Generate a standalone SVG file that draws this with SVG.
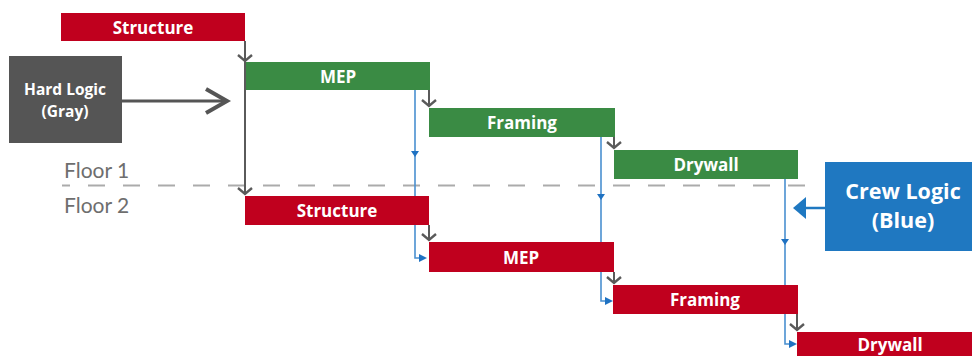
<svg xmlns="http://www.w3.org/2000/svg" width="972" height="356" viewBox="0 0 972 356">
  <style>
    .label { font-family: "Open Sans", Lato, sans-serif; font-weight: 700; font-size: 17px; fill: #ffffff; text-anchor: middle; }
    .floor { font-family: Lato, "Open Sans", sans-serif; font-weight: 400; font-size: 21px; fill: #6e6e6e; }
    .red { fill: #c0001e; }
    .green { fill: #3a8b44; }
    .hard { stroke: #5a5a5a; stroke-width: 2; fill: none; }
    .crew { stroke: #4a90d0; stroke-width: 1.6; fill: none; }
    .tri { fill: #1f72c2; }
  </style>
  <defs>
    <marker id="chev" markerUnits="userSpaceOnUse" viewBox="-10 -10 20 20" refX="0" refY="0" markerWidth="20" markerHeight="20" orient="auto">
      <path d="M-6,-7 L0,0 L-6,7" fill="none" stroke="#5a5a5a" stroke-width="2.4"/>
    </marker>
  </defs>

  <rect width="972" height="356" fill="#ffffff"/>

  <!-- floor divider -->
  <line x1="62" y1="185.5" x2="812" y2="185.5" stroke="#ababab" stroke-width="2" stroke-dasharray="17 18" stroke-dashoffset="9"/>
  <text class="floor" x="64" y="178">Floor 1</text>
  <text class="floor" x="64" y="213">Floor 2</text>

  <!-- connectors -->
  <g id="connectors">
    <!-- hard logic: finish-to-start -->
    <path class="hard" d="M245,41 V61" marker-end="url(#chev)"/>
    <path class="hard" d="M245,61 V194" marker-end="url(#chev)"/>
    <path class="hard" d="M429,90 V106" marker-end="url(#chev)"/>
    <path class="hard" d="M614,137 V148" marker-end="url(#chev)"/>
    <path class="hard" d="M429,225 V240" marker-end="url(#chev)"/>
    <path class="hard" d="M614,272 V283" marker-end="url(#chev)"/>
    <path class="hard" d="M797,314 V330" marker-end="url(#chev)"/>

    <!-- crew logic: same trade moves to next floor -->
    <path class="crew" d="M415,90 V258 H420"/>
    <path class="tri" d="M411,151 H419 L415,157 Z"/>
    <path class="tri" d="M419,254 L427,258 L419,262 Z"/>

    <path class="crew" d="M601,137 V301 H606"/>
    <path class="tri" d="M597,194 H605 L601,200 Z"/>
    <path class="tri" d="M605,297 L613,301 L605,305 Z"/>

    <path class="crew" d="M785,179 V344 H790"/>
    <path class="tri" d="M781,239 H789 L785,245 Z"/>
    <path class="tri" d="M789,340 L797,344 L789,348 Z"/>

    <!-- legend pointers -->
    <path d="M122,101 H226" stroke="#555555" stroke-width="3" fill="none"/>
    <path d="M206,89 L227,101 L206,113" stroke="#555555" stroke-width="4" fill="none"/>
    <path d="M825,208 H804" stroke="#1f78c1" stroke-width="2.5" fill="none"/>
    <path d="M806,197 L793,208 L806,219 Z" fill="#1f78c1"/>
  </g>

  <!-- floor 1 -->
  <g id="f1-structure">
    <rect class="red" x="61" y="13" width="184" height="28"/>
    <text class="label" x="153" y="34">Structure</text>
  </g>
  <g id="f1-mep">
    <rect class="green" x="246" y="62" width="184" height="28"/>
    <text class="label" x="338" y="83">MEP</text>
  </g>
  <g id="f1-framing">
    <rect class="green" x="429" y="108" width="186" height="29"/>
    <text class="label" x="522" y="129">Framing</text>
  </g>
  <g id="f1-drywall">
    <rect class="green" x="614" y="150" width="184" height="29"/>
    <text class="label" x="706" y="171">Drywall</text>
  </g>

  <!-- floor 2 -->
  <g id="f2-structure">
    <rect class="red" x="245" y="196" width="184" height="29"/>
    <text class="label" x="337" y="217">Structure</text>
  </g>
  <g id="f2-mep">
    <rect class="red" x="429" y="242" width="185" height="30"/>
    <text class="label" x="521" y="264">MEP</text>
  </g>
  <g id="f2-framing">
    <rect class="red" x="613" y="285" width="185" height="29"/>
    <text class="label" x="705" y="306">Framing</text>
  </g>
  <g id="f2-drywall">
    <rect class="red" x="797" y="332" width="186" height="30"/>
    <text class="label" x="890" y="351">Drywall</text>
  </g>

  <!-- legend -->
  <g id="hard-logic">
    <rect x="9" y="56" width="113" height="87" fill="#555555"/>
    <text class="label" x="65" y="95" style="font-size:15.5px">Hard Logic</text>
    <text class="label" x="65" y="117" style="font-size:15.5px">(Gray)</text>
  </g>
  <g id="crew-logic">
    <rect x="825" y="162" width="147" height="89" fill="#1f78c1"/>
    <text class="label" x="903" y="199" style="font-size:21.5px">Crew Logic</text>
    <text class="label" x="903" y="228" style="font-size:21.5px">(Blue)</text>
  </g>
</svg>
